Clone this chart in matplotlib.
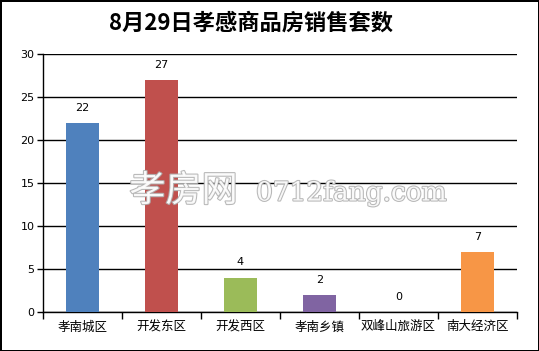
import matplotlib.pyplot as plt
import matplotlib.patheffects as pe
import numpy as np

plt.rcParams['font.family'] = ['Noto Sans CJK SC', 'DejaVu Sans']

categories = ['孝南城区', '开发东区', '开发西区', '孝南乡镇', '双峰山旅游区', '南大经济区']
values = [22, 27, 4, 2, 0, 7]
colors = ['#4F81BD', '#C0504D', '#9BBB59', '#8064A2', '#4BACC6', '#F79646']
yticks = [0, 5, 10, 15, 20, 25, 30]

fig = plt.figure(figsize=(5.39, 3.51), dpi=100)
fig.patch.set_edgecolor('black')
fig.patch.set_linewidth(2)
ax = fig.add_axes([0.0798, 0.111, 0.879, 0.735])

x = np.arange(len(categories))
ax.bar(x, values, width=0.42, color=colors, zorder=3)
for xi, v in zip(x, values):
    ax.text(xi, v + 1.2, str(v), ha='center', va='bottom', fontsize=8, family='DejaVu Sans')

ax.set_xlim(-0.5, len(categories) - 0.5)
ax.set_ylim(0, 30)
ax.set_yticks(yticks)
ax.set_yticklabels([str(t) for t in yticks], fontsize=8, family='DejaVu Sans')
ax.yaxis.grid(True, color='black', linewidth=1, zorder=0)
ax.set_axisbelow(True)
ax.tick_params(axis='y', direction='out', length=4, width=1, pad=2)

ax.set_xticks(x)
ax.set_xticklabels(categories, fontsize=9)
ax.set_xticks(np.arange(len(categories) + 1) - 0.5, minor=True)
ax.tick_params(axis='x', which='major', length=0, pad=6)
ax.tick_params(axis='x', which='minor', direction='out', length=5, width=1)

for s in ['top', 'right']:
    ax.spines[s].set_visible(False)
ax.spines['left'].set_linewidth(1)
ax.spines['bottom'].set_linewidth(1)

fig.text(0.465, 0.935, '8月29日孝感商品房销售套数', ha='center', va='center',
         fontsize=16, fontweight='bold')

# watermark
outline = [pe.withStroke(linewidth=1.5, foreground='#b0b0b0')]
fig.text(0.24, 0.455, '孝房网', ha='left', va='center', fontsize=26,
         color='white', alpha=0.9, path_effects=outline, zorder=10)
fig.text(0.475, 0.45, '0712fang.com', ha='left', va='center', fontsize=19,
         family='DejaVu Serif', color='white', alpha=0.9, path_effects=outline, zorder=10)

fig.savefig('out.png', dpi=100)
